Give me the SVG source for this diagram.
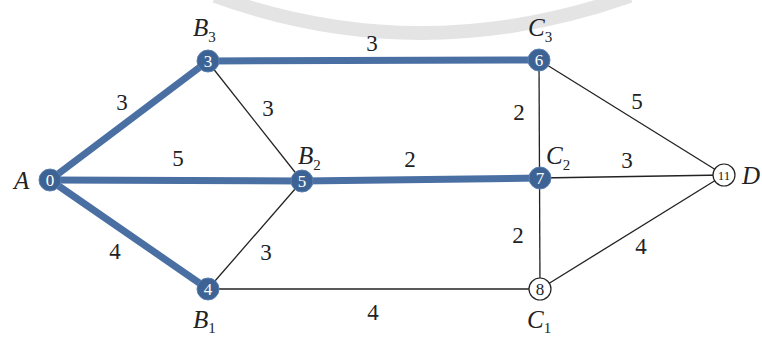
<svg xmlns="http://www.w3.org/2000/svg" width="762" height="341" viewBox="0 0 762 341">
<style>
.thick{stroke:#4a6fa3;stroke-width:7;stroke-linecap:round;fill:none}
.thin{stroke:#222;stroke-width:1.3;fill:none}
.nf{fill:#3d6395;stroke:#5a7fb0;stroke-width:1}
.no{fill:#fff;stroke:#222;stroke-width:1.2}
text{font-family:"Liberation Serif","DejaVu Serif","Times New Roman",serif}
.nt{font-size:17px;text-anchor:middle;fill:#fff}
.nto{font-size:17px;text-anchor:middle;fill:#222}
.lab{font-style:italic;font-size:25px;fill:#222}
.sub{font-size:15px;font-style:normal}
.w{font-size:23px;fill:#222;text-anchor:middle}
</style>
<rect width="762" height="341" fill="#fff"/>
<path d="M 215 -4 Q 420 70 630 -4" stroke="#e4e4e4" stroke-width="14" fill="none"/>
<g id="connectors">
<line class="thin" x1="208" y1="62" x2="302" y2="181"/>
<line class="thin" x1="208" y1="289" x2="302" y2="181"/>
<line class="thin" x1="208" y1="289" x2="540" y2="289"/>
<line class="thin" x1="539" y1="60" x2="540" y2="289"/>
<line class="thin" x1="539" y1="60" x2="724" y2="175"/>
<line class="thin" x1="540" y1="178" x2="724" y2="175"/>
<line class="thin" x1="540" y1="289" x2="724" y2="175"/>
<line class="thick" x1="50" y1="180" x2="208" y2="61"/>
<line class="thick" x1="50" y1="180" x2="302" y2="181"/>
<line class="thick" x1="50" y1="180" x2="208" y2="289"/>
<line class="thick" x1="208" y1="61" x2="539" y2="60"/>
<line class="thick" x1="302" y1="181" x2="540" y2="178"/>
<text class="w" x="122" y="110">3</text>
<text class="w" x="372" y="51">3</text>
<text class="w" x="268" y="116">3</text>
<text class="w" x="178" y="166">5</text>
<text class="w" x="410" y="167">2</text>
<text class="w" x="115" y="259">4</text>
<text class="w" x="266" y="260">3</text>
<text class="w" x="373" y="320">4</text>
<text class="w" x="519" y="120">2</text>
<text class="w" x="637" y="109">5</text>
<text class="w" x="627" y="168">3</text>
<text class="w" x="518" y="243">2</text>
<text class="w" x="641" y="254">4</text>
</g>
<g id="A"><circle class="nf" cx="50" cy="180" r="11"/><text class="nt" x="50" y="186">0</text><text class="lab" x="14" y="189">A</text></g>
<g id="B3"><circle class="nf" cx="208" cy="61" r="11"/><text class="nt" x="208" y="67">3</text><text class="lab" x="193" y="36">B<tspan class="sub" dy="6">3</tspan></text></g>
<g id="B2"><circle class="nf" cx="302" cy="181" r="11"/><text class="nt" x="302" y="187">5</text><text class="lab" x="298" y="164">B<tspan class="sub" dy="6">2</tspan></text></g>
<g id="B1"><circle class="nf" cx="208" cy="289" r="11"/><text class="nt" x="208" y="295">4</text><text class="lab" x="193" y="328">B<tspan class="sub" dy="5">1</tspan></text></g>
<g id="C3"><circle class="nf" cx="539" cy="60" r="11"/><text class="nt" x="539" y="66">6</text><text class="lab" x="528" y="36">C<tspan class="sub" dy="6">3</tspan></text></g>
<g id="C2"><circle class="nf" cx="540" cy="178" r="11"/><text class="nt" x="540" y="184">7</text><text class="lab" x="546" y="164">C<tspan class="sub" dy="6">2</tspan></text></g>
<g id="C1"><circle class="no" cx="540" cy="289" r="11"/><text class="nto" x="540" y="295">8</text><text class="lab" x="527" y="328">C<tspan class="sub" dy="5">1</tspan></text></g>
<g id="D"><circle class="no" cx="724" cy="175" r="11"/><text class="nto" x="724" y="180" style="font-size:13px">11</text><text class="lab" x="742" y="184">D</text></g>
</svg>
